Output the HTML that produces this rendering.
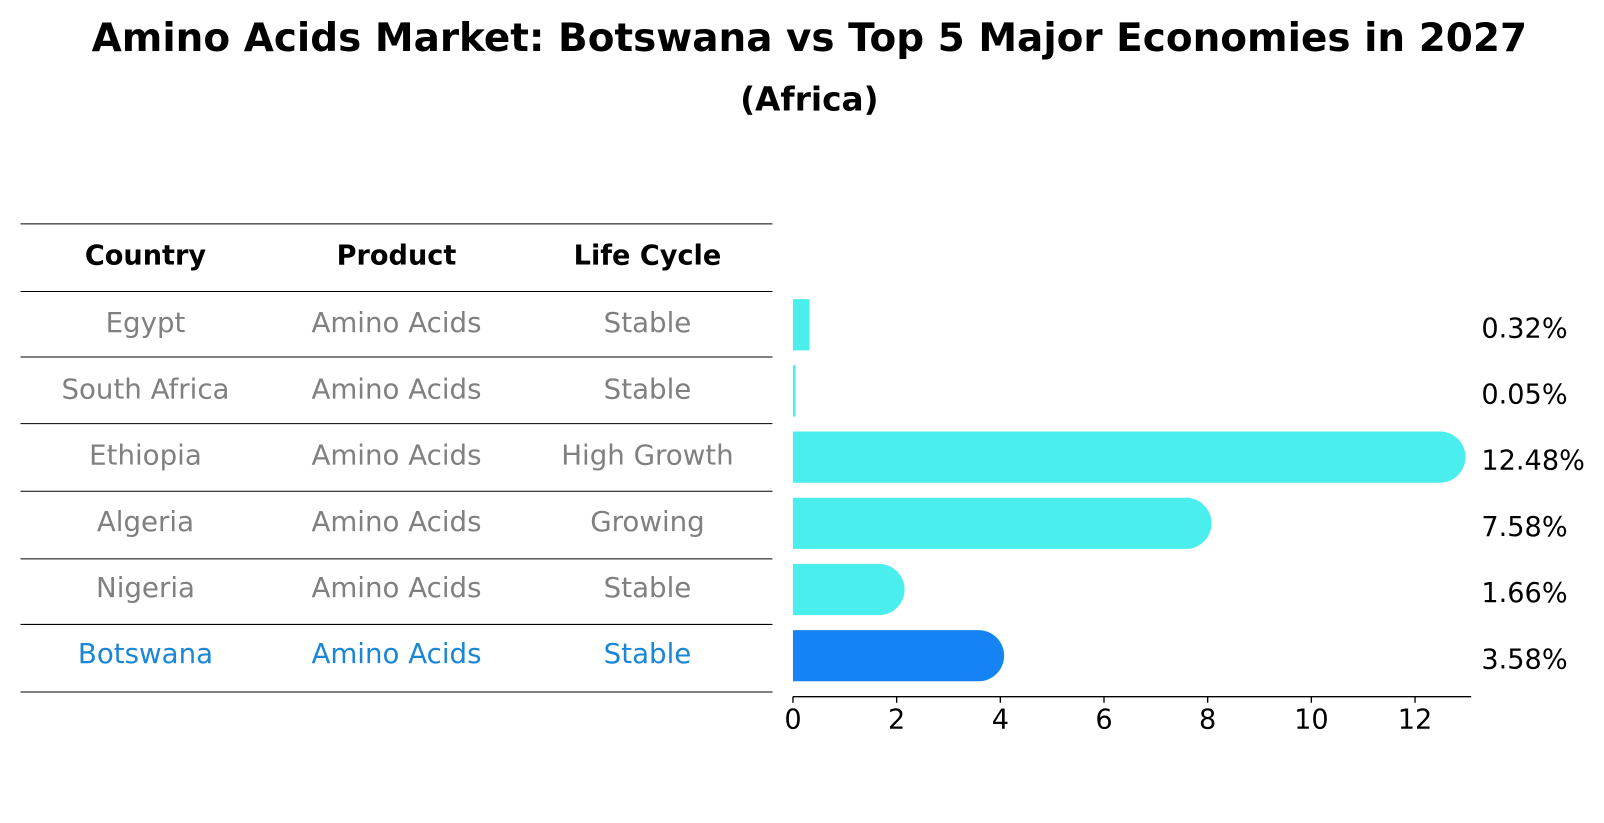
<!DOCTYPE html>
<html><head><meta charset="utf-8"><style>
body{margin:0;background:#fff;font-family:"DejaVu Sans","Liberation Sans",sans-serif;}
#wrap{position:relative;width:1604px;height:823px;overflow:hidden;}
#inner{position:absolute;left:0;top:0;width:1566px;height:804px;transform:scale(1.0245);transform-origin:0 0;}
.t{position:absolute;white-space:nowrap;line-height:1;}
</style></head><body>
<div id="wrap">
<div id="inner">
<div class="t" style="left:0;width:1580px;text-align:center;top:18px;font-size:38px;font-weight:bold;">Amino Acids Market: Botswana vs Top 5 Major Economies in 2027</div>
<div class="t" style="left:0;width:1580px;text-align:center;top:81px;font-size:32px;font-weight:bold;">(Africa)</div>
<svg id="svg" width="1566" height="804" style="position:absolute;left:0;top:0"></svg>
</div>
</div>
<script>
const countries=["Egypt","South Africa","Ethiopia","Algeria","Nigeria","Botswana"];
const products=["Amino Acids","Amino Acids","Amino Acids","Amino Acids","Amino Acids","Amino Acids"];
const lifecycles=["Stable","Stable","High Growth","Growing","Stable","Stable"];
const values=[0.32,0.05,12.48,7.58,1.66,3.58];
const ticks=[0,2,4,6,8,10,12];
const NS="http://www.w3.org/2000/svg";
const svg=document.getElementById('svg');
const x0=774,scale=50.6;
const xs=v=>x0+v*scale;
const rowY=i=>317+i*64.6;
function mk(tag,attrs){const e=document.createElementNS(NS,tag);for(const k in attrs)e.setAttribute(k,attrs[k]);svg.appendChild(e);return e;}
function txt(x,y,s,size,fill,weight,anchor){const e=mk('text',{x:x,y:y,'font-size':size,fill:fill,'font-weight':weight||'normal','text-anchor':anchor||'middle','dominant-baseline':'central','font-family':'DejaVu Sans, Liberation Sans, sans-serif'});e.textContent=s;return e;}
const lineYs=[218,284,348,413,479,545,609,675];
lineYs.forEach((y,i)=>{const l=mk('line',{x1:20,x2:754,y1:y+0.5,y2:y+0.5,stroke:'#000','stroke-width':1});

});
const cols=[142,387,632];
["Country","Product","Life Cycle"].forEach((h,j)=>{const e=txt(cols[j],250,h,26.5,'#000','bold');

});
countries.forEach((c,i)=>{
 const col=i===5?'#1a86d8':'#808080';
 const y=rowY(i)-2;
 [c,products[i],lifecycles[i]].forEach((s,j)=>{const e=txt(cols[j],y,s,27,col);
 
 });
 const v=values[i];const w=v*scale;const h=50;const yc=rowY(i);
 const color=i===5?'#1683f5':'#4aeeec';
 let b;
 if(v>1){const r=25;
  b=mk('path',{d:`M${x0},${yc-h/2} H${x0+w} A${r},${r} 0 0 1 ${x0+w},${yc+h/2} H${x0} Z`,fill:color});
 } else {
  b=mk('rect',{x:x0,y:yc-h/2,width:Math.max(w,2.5),height:h,fill:color});
 }
 
 
 const t=txt(1446,yc+4,v.toFixed(2)+'%',26.5,'#000','normal','start');
 
 
});
const ax=mk('line',{x1:x0,x2:1436,y1:680,y2:680,stroke:'#000','stroke-width':1.3});


ticks.forEach(t=>{const l=mk('line',{x1:xs(t),x2:xs(t),y1:680,y2:686,stroke:'#000','stroke-width':1.3});


const e=txt(xs(t),703,String(t),26.5,'#000');

});
</script>
</body></html>
